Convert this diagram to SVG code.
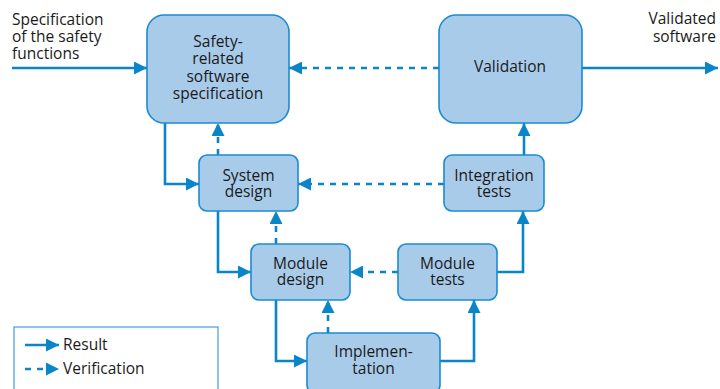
<svg xmlns="http://www.w3.org/2000/svg" width="720" height="389" viewBox="0 0 720 389">
<defs>
<style>
.box{fill:#a9cbea;stroke:#1a8ccf;stroke-width:1.6}
.t{font-family:"Open Sans","Noto Sans",sans-serif;font-size:15.5px;fill:#1a1a1a}
.c{text-anchor:middle}
.r{text-anchor:end}
.s{fill:none;stroke:#0a86c8;stroke-width:2.6}
.d{fill:none;stroke:#0a86c8;stroke-width:2.6;stroke-dasharray:6 6}
</style>
<marker id="ah" viewBox="0 0 13 13" refX="13" refY="6.5" markerWidth="13" markerHeight="13" markerUnits="userSpaceOnUse" orient="auto">
<path d="M0,0 L13,6.5 L0,13 Z" fill="#0a86c8"/>
</marker>
</defs>
<rect width="720" height="389" fill="#ffffff"/>
<g id="connectors">
<path class="s" d="M12,68 H147" marker-end="url(#ah)"/>
<path class="s" d="M582,68 H718" marker-end="url(#ah)"/>
<path class="d" d="M439,68 H289" marker-end="url(#ah)"/>
<path class="s" d="M165,123 V184 H199" marker-end="url(#ah)"/>
<path class="d" d="M218,155 V123" marker-end="url(#ah)"/>
<path class="d" d="M444,184 H298" marker-end="url(#ah)"/>
<path class="s" d="M524,155 V123" marker-end="url(#ah)"/>
<path class="s" d="M218,211 V272 H251" marker-end="url(#ah)"/>
<path class="d" d="M276,244 V211" marker-end="url(#ah)"/>
<path class="d" d="M398,272 H350" marker-end="url(#ah)"/>
<path class="s" d="M497,272 H523 V211" marker-end="url(#ah)"/>
<path class="s" d="M276,300 V361 H307" marker-end="url(#ah)"/>
<path class="d" d="M328,333 V300" marker-end="url(#ah)"/>
<path class="s" d="M440,361 H474 V300" marker-end="url(#ah)"/>
</g>
<g id="input-label">
<text class="t" x="12" y="25">Specification</text>
<text class="t" x="12" y="42">of the safety</text>
<text class="t" x="12" y="59">functions</text>
</g>
<g id="output-label">
<text class="t r" x="716" y="24">Validated</text>
<text class="t r" x="716" y="42">software</text>
</g>
<g id="safety-spec">
<rect class="box" x="147" y="15" width="142" height="108" rx="17"/>
<text class="t c" x="218" y="47">Safety-</text>
<text class="t c" x="218" y="64">related</text>
<text class="t c" x="218" y="82">software</text>
<text class="t c" x="218" y="99">specification</text>
</g>
<g id="validation">
<rect class="box" x="439" y="15" width="143" height="108" rx="17"/>
<text class="t c" x="510" y="72">Validation</text>
</g>
<g id="system-design">
<rect class="box" x="199" y="155" width="99" height="56" rx="8"/>
<text class="t c" x="248.5" y="181">System</text>
<text class="t c" x="248.5" y="197">design</text>
</g>
<g id="integration-tests">
<rect class="box" x="444" y="155" width="100" height="56" rx="8"/>
<text class="t c" x="494" y="181">Integration</text>
<text class="t c" x="494" y="197">tests</text>
</g>
<g id="module-design">
<rect class="box" x="251" y="244" width="99" height="56" rx="8"/>
<text class="t c" x="300.5" y="269">Module</text>
<text class="t c" x="300.5" y="285">design</text>
</g>
<g id="module-tests">
<rect class="box" x="398" y="244" width="99" height="56" rx="8"/>
<text class="t c" x="447.5" y="269">Module</text>
<text class="t c" x="447.5" y="285">tests</text>
</g>
<g id="implementation">
<rect class="box" x="307" y="333" width="133" height="60" rx="8"/>
<text class="t c" x="373.5" y="357">Implemen-</text>
<text class="t c" x="373.5" y="374">tation</text>
</g>
<g id="legend">
<rect x="14" y="327" width="204" height="66" fill="#ffffff" stroke="#1a8ccf" stroke-width="1"/>
<path class="s" d="M25,345 H59" marker-end="url(#ah)"/>
<path class="d" d="M25,369 H59" marker-end="url(#ah)"/>
<text class="t" x="63" y="350">Result</text>
<text class="t" x="63" y="374">Verification</text>
</g>
</svg>
